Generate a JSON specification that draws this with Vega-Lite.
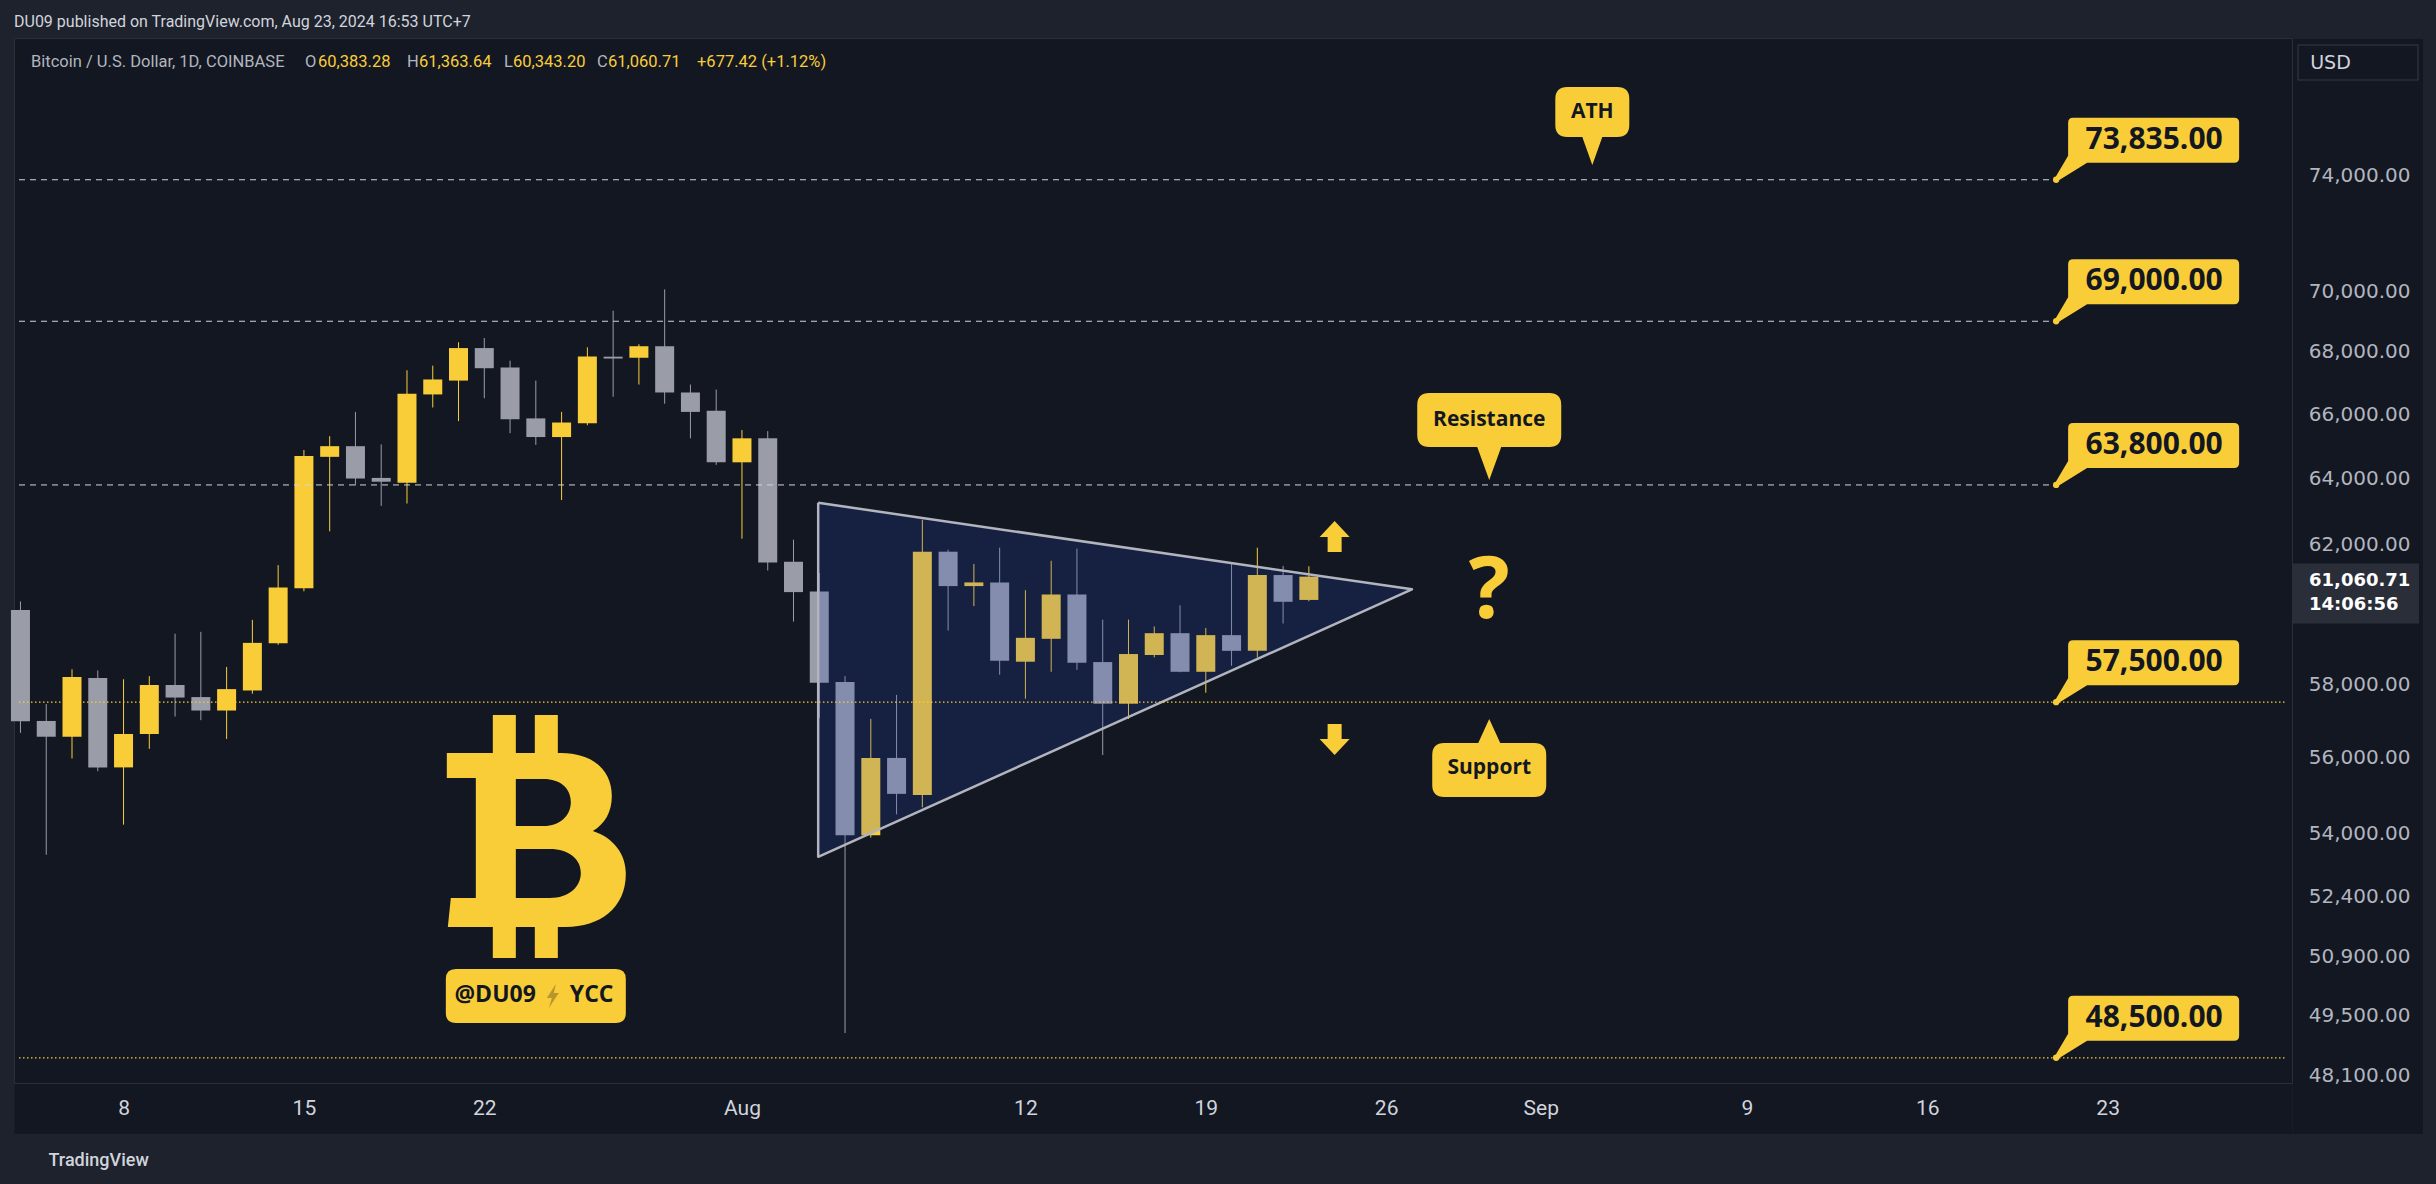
{
  "$schema": "https://vega.github.io/schema/vega-lite/v6.json",
  "width": 2278,
  "height": 1045,
  "autosize": "none",
  "padding": {"left": 14, "top": 38, "right": 144, "bottom": 101},
  "background": "#1E222D",
  "config": {"view": {"fill": "#131722", "stroke": "#2A2E39", "strokeWidth": 1}, "font": "Roboto"},
  "title": {"text": "DU09 published on TradingView.com, Aug 23, 2024 16:53 UTC+7", "anchor": "start", "frame": "group", "offset": 8, "font": "Roboto", "fontSize": 16, "fontWeight": "normal", "color": "#D1D4DC"},
  "datasets": {
    "candles": [
      {"d": "2024-07-04", "o": 60090, "h": 60340, "l": 56660, "c": 56980},
      {"d": "2024-07-05", "o": 56985, "h": 57450, "l": 53450, "c": 56556},
      {"d": "2024-07-06", "o": 56556, "h": 58412, "l": 55971, "c": 58197},
      {"d": "2024-07-07", "o": 58167, "h": 58380, "l": 55630, "c": 55732},
      {"d": "2024-07-08", "o": 55732, "h": 58134, "l": 54225, "c": 56630},
      {"d": "2024-07-09", "o": 56630, "h": 58220, "l": 56230, "c": 57975},
      {"d": "2024-07-10", "o": 57975, "h": 59415, "l": 57105, "c": 57627},
      {"d": "2024-07-11", "o": 57640, "h": 59468, "l": 57006, "c": 57270},
      {"d": "2024-07-12", "o": 57270, "h": 58478, "l": 56497, "c": 57860},
      {"d": "2024-07-13", "o": 57822, "h": 59809, "l": 57732, "c": 59155},
      {"d": "2024-07-14", "o": 59143, "h": 61398, "l": 59100, "c": 60744},
      {"d": "2024-07-15", "o": 60724, "h": 64876, "l": 60634, "c": 64688},
      {"d": "2024-07-16", "o": 64664, "h": 65307, "l": 62400, "c": 64995},
      {"d": "2024-07-17", "o": 64995, "h": 66070, "l": 63783, "c": 63996},
      {"d": "2024-07-18", "o": 64015, "h": 65050, "l": 63166, "c": 63899},
      {"d": "2024-07-19", "o": 63865, "h": 67400, "l": 63235, "c": 66650},
      {"d": "2024-07-20", "o": 66625, "h": 67548, "l": 66210, "c": 67104},
      {"d": "2024-07-21", "o": 67068, "h": 68310, "l": 65780, "c": 68120},
      {"d": "2024-07-22", "o": 68120, "h": 68448, "l": 66504, "c": 67466},
      {"d": "2024-07-23", "o": 67490, "h": 67710, "l": 65400, "c": 65840},
      {"d": "2024-07-24", "o": 65865, "h": 67068, "l": 65035, "c": 65280},
      {"d": "2024-07-25", "o": 65280, "h": 66070, "l": 63340, "c": 65735},
      {"d": "2024-07-26", "o": 65710, "h": 68145, "l": 65650, "c": 67845},
      {"d": "2024-07-27", "o": 67840, "h": 69350, "l": 66550, "c": 67780},
      {"d": "2024-07-28", "o": 67805, "h": 68245, "l": 66940, "c": 68180},
      {"d": "2024-07-29", "o": 68180, "h": 70060, "l": 66330, "c": 66687},
      {"d": "2024-07-30", "o": 66687, "h": 66940, "l": 65240, "c": 66070},
      {"d": "2024-07-31", "o": 66105, "h": 66780, "l": 64415, "c": 64495},
      {"d": "2024-08-01", "o": 64495, "h": 65500, "l": 62180, "c": 65240},
      {"d": "2024-08-02", "o": 65240, "h": 65465, "l": 61240, "c": 61475},
      {"d": "2024-08-03", "o": 61497, "h": 62150, "l": 59760, "c": 60610},
      {"d": "2024-08-04", "o": 60630, "h": 61168, "l": 57062, "c": 58036},
      {"d": "2024-08-05", "o": 58055, "h": 58222, "l": 49077, "c": 53950},
      {"d": "2024-08-06", "o": 53950, "h": 57040, "l": 53890, "c": 55985},
      {"d": "2024-08-07", "o": 55985, "h": 57700, "l": 54493, "c": 55030},
      {"d": "2024-08-08", "o": 55000, "h": 62745, "l": 54677, "c": 61794},
      {"d": "2024-08-09", "o": 61794, "h": 61853, "l": 59506, "c": 60785},
      {"d": "2024-08-10", "o": 60785, "h": 61430, "l": 60206, "c": 60892},
      {"d": "2024-08-11", "o": 60892, "h": 61913, "l": 58259, "c": 58650},
      {"d": "2024-08-12", "o": 58624, "h": 60665, "l": 57595, "c": 59298},
      {"d": "2024-08-13", "o": 59270, "h": 61526, "l": 58342, "c": 60541},
      {"d": "2024-08-14", "o": 60541, "h": 61885, "l": 58398, "c": 58596},
      {"d": "2024-08-15", "o": 58614, "h": 59817, "l": 56063, "c": 57457},
      {"d": "2024-08-16", "o": 57457, "h": 59817, "l": 57040, "c": 58840},
      {"d": "2024-08-17", "o": 58812, "h": 59620, "l": 58745, "c": 59430},
      {"d": "2024-08-18", "o": 59430, "h": 60230, "l": 58330, "c": 58342},
      {"d": "2024-08-19", "o": 58342, "h": 59580, "l": 57760, "c": 59375},
      {"d": "2024-08-20", "o": 59375, "h": 61430, "l": 58510, "c": 58930},
      {"d": "2024-08-21", "o": 58930, "h": 61913, "l": 58745, "c": 61107},
      {"d": "2024-08-22", "o": 61107, "h": 61375, "l": 59705, "c": 60330},
      {"d": "2024-08-23", "o": 60383.28, "h": 61363.64, "l": 60343.2, "c": 61060.71}
    ],
    "levels": [
      {"p": 73835, "lbl": "73,835.00"},
      {"p": 69000, "lbl": "69,000.00"},
      {"p": 63800, "lbl": "63,800.00"},
      {"p": 57500, "lbl": "57,500.00"},
      {"p": 48500, "lbl": "48,500.00"}
    ]
  },
  "resolve": {"axis": {"x": "independent", "y": "independent"}},
  "layer": [
    {
      "data": {"name": "candles"},
      "mark": {"type": "rule", "strokeWidth": 1},
      "encoding": {
        "x": {
          "field": "d", "type": "temporal",
          "scale": {"type": "utc", "domain": [{"year": 2024, "month": 7, "date": 3, "hours": 22, "minutes": 38, "utc": true}, {"year": 2024, "month": 9, "date": 29, "hours": 23, "minutes": 2, "utc": true}]},
          "axis": {
            "orient": "bottom", "labels": false, "ticks": false, "tickSize": 0, "grid": false,
            "offset": 25.5, "domainWidth": 50, "domainColor": "#131722", "domainCap": "butt",
            "title": null, "zindex": 0
          }
        },
        "y": {
          "field": "l", "type": "quantitative",
          "scale": {"type": "log", "domain": [47918, 79019], "nice": false, "zero": false},
          "axis": {
            "orient": "right", "values": [60802], "labels": false, "domain": false,
            "ticks": true, "tickSize": 130, "tickWidth": 1095, "tickColor": "#131722", "tickCap": "butt",
            "grid": false, "offset": 0.5, "title": null, "zindex": 0
          }
        },
        "y2": {"field": "h"},
        "color": {"condition": {"test": "datum.c >= datum.o", "value": "#F9CD38"}, "value": "#9A9DA8"}
      }
    },
    {
      "data": {"name": "candles"},
      "mark": {"type": "bar", "size": 19},
      "encoding": {
        "x": {
          "field": "d", "type": "temporal",
          "axis": {
            "orient": "bottom",
            "values": [
              {"year": 2024, "month": 7, "date": 8, "utc": true},
              {"year": 2024, "month": 7, "date": 15, "utc": true},
              {"year": 2024, "month": 7, "date": 22, "utc": true},
              {"year": 2024, "month": 8, "date": 1, "utc": true},
              {"year": 2024, "month": 8, "date": 12, "utc": true},
              {"year": 2024, "month": 8, "date": 19, "utc": true},
              {"year": 2024, "month": 8, "date": 26, "utc": true},
              {"year": 2024, "month": 9, "date": 1, "utc": true},
              {"year": 2024, "month": 9, "date": 9, "utc": true},
              {"year": 2024, "month": 9, "date": 16, "utc": true},
              {"year": 2024, "month": 9, "date": 23, "utc": true}
            ],
            "labelExpr": "utcdate(datum.value) == 1 ? utcFormat(datum.value, '%b') : utcFormat(datum.value, '%-d')",
            "domain": false, "ticks": false, "tickSize": 0, "grid": false, "offset": 25.5,
            "labelFont": "Roboto", "labelFontSize": 21, "labelColor": "#D1D4DC", "labelPadding": 0, "labelBaseline": "middle",
            "labelFlush": false, "labelOverlap": false,
            "title": "TradingView", "titleX": 34, "titleY": 52, "titleAlign": "left", "titleBaseline": "middle", "titleAnchor": "start",
            "titleFont": "Roboto", "titleFontSize": 18, "titleFontWeight": 500, "titleColor": "#D1D4DC", "zindex": 1
          }
        },
        "y": {
          "field": "o", "type": "quantitative",
          "axis": {
            "orient": "right",
            "values": [48100, 49500, 50900, 52400, 54000, 56000, 58000, 62000, 64000, 66000, 68000, 70000, 74000],
            "format": ",.2f", "domain": false,
            "ticks": false, "tickSize": 0, "grid": false, "offset": 0,
            "labelAlign": "right", "labelPadding": 118, "labelBaseline": "middle",
            "labelFont": "DejaVu Sans", "labelFontSize": 20, "labelColor": "#B2B5BE",
            "labelFlush": false, "labelOverlap": false, "title": null, "zindex": 1
          }
        },
        "y2": {"field": "c"},
        "color": {"condition": {"test": "datum.c >= datum.o", "value": "#F9CD38"}, "value": "#9A9DA8"}
      }
    },
    {
      "data": {"values": [
        {"d": "2024-08-03T23:00:00Z", "top": 63258, "bot": 53398},
        {"d": "2024-08-27T00:00:00Z", "top": 60690, "bot": 60690}
      ]},
      "mark": {"type": "area", "color": "#2448C8", "opacity": 0.19},
      "encoding": {
        "x": {"field": "d", "type": "temporal", "axis": null},
        "y": {
          "field": "top", "type": "quantitative",
          "axis": {
            "orient": "right", "values": [78116], "labels": false, "domain": false,
            "ticks": true, "tickSize": 121, "tickWidth": 36, "tickColor": "#363A45", "tickCap": "butt",
            "grid": false, "offset": 5, "title": null, "zindex": 0
          }
        },
        "y2": {"field": "bot"}
      }
    },
    {
      "data": {"values": [
        {"i": 1, "d": "2024-08-03T23:00:00Z", "p": 63258},
        {"i": 2, "d": "2024-08-27T00:00:00Z", "p": 60690},
        {"i": 3, "d": "2024-08-03T23:00:00Z", "p": 53398},
        {"i": 4, "d": "2024-08-03T23:00:00Z", "p": 63258}
      ]},
      "mark": {"type": "line", "color": "#B2B5BE", "strokeWidth": 2.5, "strokeJoin": "round"},
      "encoding": {
        "x": {"field": "d", "type": "temporal", "axis": null},
        "y": {
          "field": "p", "type": "quantitative",
          "axis": {
            "orient": "right", "values": [78116], "labels": false, "domain": false,
            "ticks": true, "tickSize": 119, "tickWidth": 34, "tickColor": "#131722", "tickCap": "butt",
            "grid": false, "offset": 6, "title": null, "zindex": 0
          }
        },
        "order": {"field": "i", "type": "quantitative"}
      }
    },
    {
      "data": {"name": "levels"},
      "transform": [{"filter": "datum.p > 60000"}],
      "mark": {"type": "rule", "color": "#D1D4DC", "strokeWidth": 1, "strokeDash": [6, 5]},
      "encoding": {
        "x": {"datum": {"year": 2024, "month": 7, "date": 3, "hours": 22, "minutes": 38, "utc": true}, "type": "temporal", "axis": null},
        "x2": {"datum": {"year": 2024, "month": 9, "date": 21, "utc": true}},
        "y": {"field": "p", "type": "quantitative", "axis": null}
      }
    },
    {
      "data": {"name": "levels"},
      "transform": [{"filter": "datum.p < 60000"}],
      "mark": {"type": "rule", "color": "#F9CD38", "strokeWidth": 1.2, "strokeDash": [1.5, 2.5]},
      "encoding": {
        "x": {"datum": {"year": 2024, "month": 7, "date": 3, "hours": 22, "minutes": 38, "utc": true}, "type": "temporal", "axis": null},
        "x2": {"datum": {"year": 2024, "month": 9, "date": 29, "hours": 23, "minutes": 2, "utc": true}},
        "y": {"field": "p", "type": "quantitative", "axis": null}
      }
    },
    {
      "data": {"name": "levels"},
      "mark": {"type": "point", "shape": "M 12 -24 L 12 -57 Q 12 -62 17 -62 L 178 -62 Q 183 -62 183 -57 L 183 -22 Q 183 -17 178 -17 L 31 -17 L 2 1 L -1 -2 Z", "size": 4, "filled": true, "color": "#F9CD38", "opacity": 1},
      "encoding": {
        "x": {"datum": {"year": 2024, "month": 9, "date": 21, "utc": true}, "type": "temporal", "axis": null},
        "y": {"field": "p", "type": "quantitative", "axis": null}
      }
    },
    {
      "data": {"name": "levels"},
      "mark": {"type": "point", "shape": "circle", "size": 40, "filled": true, "color": "#F9CD38", "opacity": 1},
      "encoding": {
        "x": {"datum": {"year": 2024, "month": 9, "date": 21, "utc": true}, "type": "temporal", "axis": null},
        "y": {"field": "p", "type": "quantitative", "axis": null}
      }
    },
    {
      "data": {"name": "levels"},
      "mark": {"type": "text", "dx": 98, "dy": -40, "align": "center", "baseline": "middle", "font": "Open Sans", "fontSize": 30, "fontWeight": "bold", "color": "#131722"},
      "encoding": {
        "x": {"datum": {"year": 2024, "month": 9, "date": 21, "utc": true}, "type": "temporal", "axis": null},
        "y": {"field": "p", "type": "quantitative", "axis": null},
        "text": {"field": "lbl"}
      }
    },
    {
      "data": {"values": [{"d": "2024-09-03", "p": 74357, "t": "ATH"}]},
      "mark": {"type": "point", "shape": "M -25 -78 L 25 -78 Q 37 -78 37 -66 L 37 -40 Q 37 -28 25 -28 L 10 -28 L 0 0 L -10 -28 L -25 -28 Q -37 -28 -37 -40 L -37 -66 Q -37 -78 -25 -78 Z", "size": 4, "filled": true, "color": "#F9CD38", "opacity": 1},
      "encoding": {
        "x": {"field": "d", "type": "temporal", "axis": null},
        "y": {"field": "p", "type": "quantitative", "axis": null}
      }
    },
    {
      "data": {"values": [{"d": "2024-09-03", "p": 74357, "t": "ATH"}]},
      "mark": {"type": "text", "dy": -53, "align": "center", "baseline": "middle", "font": "Open Sans", "fontSize": 21, "fontWeight": "bold", "color": "#131722"},
      "encoding": {
        "x": {"field": "d", "type": "temporal", "axis": null},
        "y": {"field": "p", "type": "quantitative", "axis": null},
        "text": {"field": "t"}
      }
    },
    {
      "data": {"values": [{"d": "2024-08-30", "p": 63950, "t": "Resistance"}]},
      "mark": {"type": "point", "shape": "M -60 -87 L 60 -87 Q 72 -87 72 -75 L 72 -45 Q 72 -33 60 -33 L 12 -33 L 0 0 L -12 -33 L -60 -33 Q -72 -33 -72 -45 L -72 -75 Q -72 -87 -60 -87 Z", "size": 4, "filled": true, "color": "#F9CD38", "opacity": 1},
      "encoding": {
        "x": {"field": "d", "type": "temporal", "axis": null},
        "y": {"field": "p", "type": "quantitative", "axis": null}
      }
    },
    {
      "data": {"values": [{"d": "2024-08-30", "p": 63950, "t": "Resistance"}]},
      "mark": {"type": "text", "dy": -60, "align": "center", "baseline": "middle", "font": "Open Sans", "fontSize": 21, "fontWeight": "bold", "color": "#131722"},
      "encoding": {
        "x": {"field": "d", "type": "temporal", "axis": null},
        "y": {"field": "p", "type": "quantitative", "axis": null},
        "text": {"field": "t"}
      }
    },
    {
      "data": {"values": [{"d": "2024-08-30", "p": 57036, "t": "Support"}]},
      "mark": {"type": "point", "shape": "M -45 24 L -11 24 L 0 0 L 11 24 L 45 24 Q 57 24 57 36 L 57 66 Q 57 78 45 78 L -45 78 Q -57 78 -57 66 L -57 36 Q -57 24 -45 24 Z", "size": 4, "filled": true, "color": "#F9CD38", "opacity": 1},
      "encoding": {
        "x": {"field": "d", "type": "temporal", "axis": null},
        "y": {"field": "p", "type": "quantitative", "axis": null}
      }
    },
    {
      "data": {"values": [{"d": "2024-08-30", "p": 57036, "t": "Support"}]},
      "mark": {"type": "text", "dy": 49, "align": "center", "baseline": "middle", "font": "Open Sans", "fontSize": 21, "fontWeight": "bold", "color": "#131722"},
      "encoding": {
        "x": {"field": "d", "type": "temporal", "axis": null},
        "y": {"field": "p", "type": "quantitative", "axis": null},
        "text": {"field": "t"}
      }
    },
    {
      "data": {"values": [{"d": "2024-08-30", "p": 59862, "t": "?"}]},
      "mark": {"type": "text", "align": "center", "baseline": "alphabetic", "font": "Open Sans", "fontSize": 86, "fontWeight": "bold", "color": "#F9CD38"},
      "encoding": {
        "x": {"field": "d", "type": "temporal", "axis": null},
        "y": {
          "field": "p", "type": "quantitative",
          "axis": {
            "orient": "right", "values": [60582],
            "labelExpr": "['61,060.71', '14:06:56']",
            "domain": false, "ticks": true, "tickSize": 126, "tickWidth": 60, "tickColor": "#2A2E39", "tickCap": "butt", "grid": false,
            "labelAlign": "left", "labelPadding": -110, "labelBaseline": "middle", "labelLineHeight": 24, "labelOffset": -13,
            "labelFont": "DejaVu Sans", "labelFontSize": 18, "labelFontWeight": "bold", "labelColor": "#FFFFFF",
            "labelFlush": false, "labelOverlap": false, "title": null, "zindex": 1, "offset": 0.5
          }
        },
        "text": {"field": "t"}
      }
    },
    {
      "data": {"values": [{"d": "2024-08-24", "p": 62707}]},
      "mark": {"type": "point", "shape": "M 0 0 L 15 16 L 7 16 L 7 31 L -7 31 L -7 16 L -15 16 Z", "size": 4, "filled": true, "color": "#F9CD38", "opacity": 1},
      "encoding": {
        "x": {"field": "d", "type": "temporal", "axis": null},
        "y": {
          "field": "p", "type": "quantitative",
          "axis": {
            "orient": "right", "values": [78116], "labelExpr": "'USD'",
            "domain": false, "ticks": false, "tickSize": 0, "grid": false,
            "labelAlign": "center", "labelPadding": 38, "labelBaseline": "middle",
            "labelFont": "DejaVu Sans", "labelFontSize": 19, "labelColor": "#D1D4DC",
            "labelFlush": false, "labelOverlap": false, "title": null, "zindex": 1, "offset": 0
          }
        }
      }
    },
    {
      "data": {"values": [{"d": "2024-08-24", "p": 56062}]},
      "mark": {"type": "point", "shape": "M 0 0 L 15 -16 L 7 -16 L 7 -31 L -7 -31 L -7 -16 L -15 -16 Z", "size": 4, "filled": true, "color": "#F9CD38", "opacity": 1},
      "encoding": {
        "x": {"field": "d", "type": "temporal", "axis": null},
        "y": {"field": "p", "type": "quantitative", "axis": null}
      }
    },
    {
      "data": {"values": [{"d": "2024-07-24", "p": 53930}]},
      "mark": {"type": "point", "shape": "M -89 -83 L 25 -83 C 58 -83 76 -65 76 -40 C 76 -24 69 -12 57 -5 C 78 2 90 18 90 38 C 90 72 64 91 30 91 L -88 91 L -85 62 L -60 62 L -60 -58 L -89 -58 Z M -20 -57 L -20 -10 L 8 -10 C 24 -10 35 -20 35 -34 C 35 -48 24 -57 8 -57 Z M -20 13 L -20 62 L 14 62 C 33 62 45 51 45 37 C 45 23 33 13 14 13 Z M -43 -121 L -20 -121 L -20 -80 L -43 -80 Z M -1 -121 L 22 -121 L 22 -80 L -1 -80 Z M -43 88 L -20 88 L -20 122 L -43 122 Z M -1 88 L 22 88 L 22 122 L -1 122 Z", "size": 4, "filled": true, "color": "#F9CD38", "opacity": 1},
      "encoding": {
        "x": {"field": "d", "type": "temporal", "axis": null},
        "y": {"field": "p", "type": "quantitative", "axis": null}
      }
    },
    {
      "data": {"values": [{"d": "2024-07-24", "p": 49954}]},
      "mark": {"type": "point", "shape": "M -80 -27 L 80 -27 Q 90 -27 90 -17 L 90 17 Q 90 27 80 27 L -80 27 Q -90 27 -90 17 L -90 -17 Q -90 -27 -80 -27 Z", "size": 4, "filled": true, "color": "#F9CD38", "opacity": 1},
      "encoding": {
        "x": {"field": "d", "type": "temporal", "axis": null},
        "y": {"field": "p", "type": "quantitative", "axis": null}
      }
    },
    {
      "data": {"values": [{"d": "2024-07-24", "p": 49954, "t": "@DU09"}]},
      "mark": {"type": "text", "align": "right", "baseline": "middle", "dx": 0, "dy": -1, "font": "Open Sans", "fontSize": 23, "fontWeight": "bold", "color": "#131722"},
      "encoding": {
        "x": {"field": "d", "type": "temporal", "axis": null},
        "y": {"field": "p", "type": "quantitative", "axis": null},
        "text": {"field": "t"}
      }
    },
    {
      "data": {"values": [{"d": "2024-07-24", "p": 49954}]},
      "mark": {"type": "point", "shape": "M 20 -12 L 11 2 L 16 2 L 13 12 L 23 -3 L 18 -3 Z", "size": 4, "filled": true, "color": "#B8952E", "opacity": 1},
      "encoding": {
        "x": {"field": "d", "type": "temporal", "axis": null},
        "y": {"field": "p", "type": "quantitative", "axis": null}
      }
    },
    {
      "data": {"values": [{"d": "2024-07-24", "p": 49954, "t": "YCC"}]},
      "mark": {"type": "text", "align": "left", "baseline": "middle", "dx": 34, "dy": -1, "font": "Open Sans", "fontSize": 23, "fontWeight": "bold", "color": "#131722"},
      "encoding": {
        "x": {"field": "d", "type": "temporal", "axis": null},
        "y": {"field": "p", "type": "quantitative", "axis": null},
        "text": {"field": "t"}
      }
    },
    {
      "data": {"values": [{"t": "Bitcoin / U.S. Dollar, 1D, COINBASE"}]},
      "mark": {"type": "text", "align": "left", "baseline": "middle", "dx": 12, "font": "Roboto", "fontSize": 16.5, "color": "#B2B5BE"},
      "encoding": {
        "x": {"datum": {"year": 2024, "month": 7, "date": 3, "hours": 22, "minutes": 38, "utc": true}, "type": "temporal", "axis": null},
        "y": {"datum": 78116, "type": "quantitative", "axis": null},
        "text": {"field": "t"}
      }
    },
    {
      "data": {"values": [{"t": "O"}]},
      "mark": {"type": "text", "align": "left", "baseline": "middle", "dx": 286, "font": "Roboto", "fontSize": 16.5, "color": "#B2B5BE"},
      "encoding": {
        "x": {"datum": {"year": 2024, "month": 7, "date": 3, "hours": 22, "minutes": 38, "utc": true}, "type": "temporal", "axis": null},
        "y": {"datum": 78116, "type": "quantitative", "axis": null},
        "text": {"field": "t"}
      }
    },
    {
      "data": {"values": [{"t": "60,383.28"}]},
      "mark": {"type": "text", "align": "left", "baseline": "middle", "dx": 299, "font": "Roboto", "fontSize": 16.5, "color": "#F9CD38"},
      "encoding": {
        "x": {"datum": {"year": 2024, "month": 7, "date": 3, "hours": 22, "minutes": 38, "utc": true}, "type": "temporal", "axis": null},
        "y": {"datum": 78116, "type": "quantitative", "axis": null},
        "text": {"field": "t"}
      }
    },
    {
      "data": {"values": [{"t": "H"}]},
      "mark": {"type": "text", "align": "left", "baseline": "middle", "dx": 388, "font": "Roboto", "fontSize": 16.5, "color": "#B2B5BE"},
      "encoding": {
        "x": {"datum": {"year": 2024, "month": 7, "date": 3, "hours": 22, "minutes": 38, "utc": true}, "type": "temporal", "axis": null},
        "y": {"datum": 78116, "type": "quantitative", "axis": null},
        "text": {"field": "t"}
      }
    },
    {
      "data": {"values": [{"t": "61,363.64"}]},
      "mark": {"type": "text", "align": "left", "baseline": "middle", "dx": 400, "font": "Roboto", "fontSize": 16.5, "color": "#F9CD38"},
      "encoding": {
        "x": {"datum": {"year": 2024, "month": 7, "date": 3, "hours": 22, "minutes": 38, "utc": true}, "type": "temporal", "axis": null},
        "y": {"datum": 78116, "type": "quantitative", "axis": null},
        "text": {"field": "t"}
      }
    },
    {
      "data": {"values": [{"t": "L"}]},
      "mark": {"type": "text", "align": "left", "baseline": "middle", "dx": 485, "font": "Roboto", "fontSize": 16.5, "color": "#B2B5BE"},
      "encoding": {
        "x": {"datum": {"year": 2024, "month": 7, "date": 3, "hours": 22, "minutes": 38, "utc": true}, "type": "temporal", "axis": null},
        "y": {"datum": 78116, "type": "quantitative", "axis": null},
        "text": {"field": "t"}
      }
    },
    {
      "data": {"values": [{"t": "60,343.20"}]},
      "mark": {"type": "text", "align": "left", "baseline": "middle", "dx": 494, "font": "Roboto", "fontSize": 16.5, "color": "#F9CD38"},
      "encoding": {
        "x": {"datum": {"year": 2024, "month": 7, "date": 3, "hours": 22, "minutes": 38, "utc": true}, "type": "temporal", "axis": null},
        "y": {"datum": 78116, "type": "quantitative", "axis": null},
        "text": {"field": "t"}
      }
    },
    {
      "data": {"values": [{"t": "C"}]},
      "mark": {"type": "text", "align": "left", "baseline": "middle", "dx": 578, "font": "Roboto", "fontSize": 16.5, "color": "#B2B5BE"},
      "encoding": {
        "x": {"datum": {"year": 2024, "month": 7, "date": 3, "hours": 22, "minutes": 38, "utc": true}, "type": "temporal", "axis": null},
        "y": {"datum": 78116, "type": "quantitative", "axis": null},
        "text": {"field": "t"}
      }
    },
    {
      "data": {"values": [{"t": "61,060.71"}]},
      "mark": {"type": "text", "align": "left", "baseline": "middle", "dx": 589, "font": "Roboto", "fontSize": 16.5, "color": "#F9CD38"},
      "encoding": {
        "x": {"datum": {"year": 2024, "month": 7, "date": 3, "hours": 22, "minutes": 38, "utc": true}, "type": "temporal", "axis": null},
        "y": {"datum": 78116, "type": "quantitative", "axis": null},
        "text": {"field": "t"}
      }
    },
    {
      "data": {"values": [{"t": "+677.42 (+1.12%)"}]},
      "mark": {"type": "text", "align": "left", "baseline": "middle", "dx": 678, "font": "Roboto", "fontSize": 16.5, "color": "#F9CD38"},
      "encoding": {
        "x": {"datum": {"year": 2024, "month": 7, "date": 3, "hours": 22, "minutes": 38, "utc": true}, "type": "temporal", "axis": null},
        "y": {"datum": 78116, "type": "quantitative", "axis": null},
        "text": {"field": "t"}
      }
    }
  ]
}
